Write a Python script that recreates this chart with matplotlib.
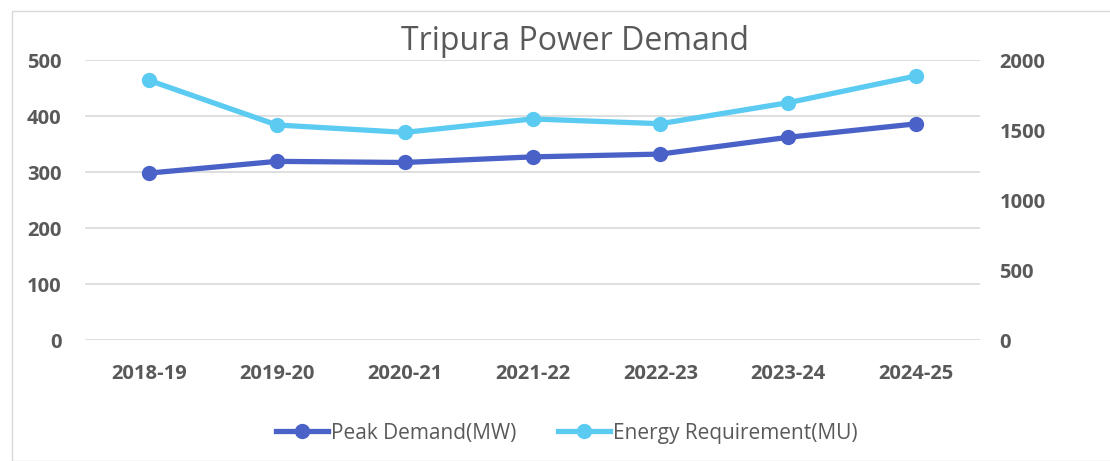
import matplotlib.pyplot as plt
from matplotlib.patches import Rectangle

years = ["2018-19", "2019-20", "2020-21", "2021-22", "2022-23", "2023-24", "2024-25"]
peak_demand = [298, 319, 317, 327, 332, 362, 386]
energy_req = [1855, 1536, 1483, 1579, 1545, 1695, 1886]

peak_color = "#4A62C8"
energy_color = "#5BCBF2"
text_color = "#595959"

plt.rcParams['font.family'] = ['Open Sans', 'DejaVu Sans']

fig = plt.figure(figsize=(11.1, 4.61), dpi=100)
fig.patches.append(Rectangle((12 / 1110, 0), 1.2, 1 - 11 / 461, transform=fig.transFigure,
                             fill=False, edgecolor="#D9D9D9", linewidth=1))

ax = fig.add_axes([85 / 1110, 1 - 340 / 461, 895 / 1110, 280 / 461])
ax2 = ax.twinx()

x = list(range(len(years)))
ax.plot(x, peak_demand, color=peak_color, linewidth=3.8, marker='o', markersize=10,
        label="Peak Demand(MW)", zorder=3)
ax2.plot(x, energy_req, color=energy_color, linewidth=3.8, marker='o', markersize=10,
         label="Energy Requirement(MU)", zorder=3)

ax.set_xlim(-0.5, 6.5)
ax.set_ylim(0, 500)
ax2.set_ylim(0, 2000)
ax.set_yticks(range(0, 501, 100))
ax2.set_yticks(range(0, 2001, 500))
ax.set_xticks(x)
ax.set_xticklabels(years)

ax.grid(axis='y', color="#D9D9D9", linewidth=1.2)
ax.set_axisbelow(True)
for a in (ax, ax2):
    for s in a.spines.values():
        s.set_visible(False)
    a.tick_params(length=0, labelsize=14.5, labelcolor=text_color)
    for lbl in a.get_yticklabels() + a.get_xticklabels():
        lbl.set_fontweight('bold')
ax.tick_params(axis='y', pad=17)
ax2.tick_params(axis='y', pad=14)
ax.tick_params(axis='x', pad=17)

fig.text(575 / 1110, 1 - 41 / 461, "Tripura Power Demand", ha='center', va='center',
         fontsize=23, color=text_color)

h1, l1 = ax.get_legend_handles_labels()
h2, l2 = ax2.get_legend_handles_labels()
fig.legend(h1 + h2, l1 + l2, loc='center', bbox_to_anchor=(567 / 1110, 1 - 433 / 461),
           ncol=2, frameon=False, fontsize=15, labelcolor=text_color,
           handlelength=2.5, handletextpad=0.15, columnspacing=2.0)

fig.savefig("out.png", dpi=100)
